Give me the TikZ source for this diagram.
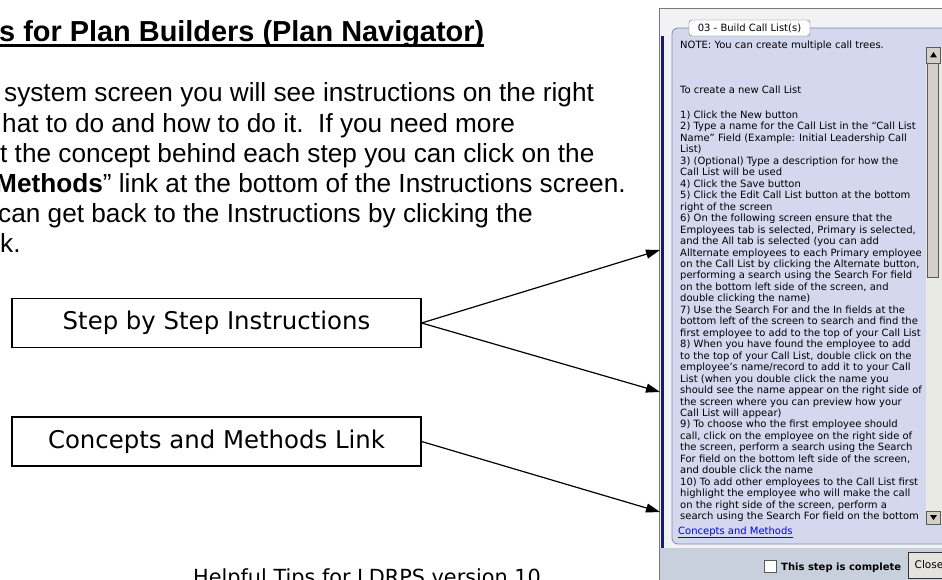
\documentclass[tikz,border=0pt]{standalone}
\usepackage{fontspec}
\setmainfont{Liberation Sans}
\newfontfamily\dvs{DejaVu Sans}
\usetikzlibrary{arrows.meta}
\definecolor{panelfill}{RGB}{212,216,238}
\definecolor{panelline}{RGB}{128,138,172}
\definecolor{framefill}{RGB}{242,242,244}
\definecolor{frameline}{RGB}{120,120,120}
\definecolor{navy}{RGB}{24,26,110}
\definecolor{barfill}{RGB}{200,208,222}
\definecolor{btnfill}{RGB}{212,208,200}
\definecolor{trackfill}{RGB}{234,234,228}
\definecolor{linkblue}{RGB}{0,0,238}
\tikzset{
  bodytext/.style={anchor=base west, inner sep=0pt, font=\fontsize{26.2}{30}\selectfont},
  calloutbox/.style={draw=black, line width=1.2pt, minimum width=409pt, minimum height=49pt, inner sep=0pt, font=\dvs\fontsize{24.4}{26}\selectfont},
  paneltext/.style={anchor=base west, inner sep=0pt, font=\dvs\fontsize{10}{11.5}\selectfont},
  pointer/.style={line width=1.2pt, -{Triangle[length=14pt,width=9pt]}},
  btn/.style={fill=btnfill, draw=gray!70!black, line width=0.6pt},
}
\begin{document}
\begin{tikzpicture}[x=1pt,y=-1pt]
\useasboundingbox (0,0) rectangle (942,580);
\begin{scope}
\clip (0,0) rectangle (942,580);
\fill[white] (0,0) rectangle (942,580);

% ---- left document text ----
\node[anchor=base west, inner sep=0pt, font=\fontsize{28.9}{30}\selectfont\bfseries] (title) at (-1,41.5) {s for Plan Builders (Plan Navigator)};
\draw[line width=3pt] ([yshift=-4pt]title.base west) -- ([yshift=-4pt]title.base east);

\node[bodytext] (l1) at (4,102) {system screen you will see instructions on the right};
\node[bodytext] (l2) at (2,132.1) {hat to do and how to do it.\ \ If you need more};
\node[bodytext] (l3) at (0,162.2) {t the concept behind each step you can click on the};
\node[bodytext] (l4) at (-5,192.3) {\textbf{Methods}” link at the bottom of the Instructions screen.};
\node[bodytext] (l5) at (-2,222.4) {can get back to the Instructions by clicking the};
\node[bodytext] (l6) at (0,252.5) {k.};

\node[calloutbox] (step) at (216.5,323) {Step by Step Instructions};
\node[calloutbox] (concept) at (216.5,441.5) {Concepts and Methods Link};

\node[anchor=base west, inner sep=0pt, font=\dvs\fontsize{20.8}{24}\selectfont] (footer) at (193,584) {Helpful Tips for LDRPS version 10};

% ---- screenshot ----
\draw[fill=framefill, draw=frameline, line width=1pt] (659.5,9) rectangle (960,600);
\fill[barfill] (660,548) rectangle (942,580);
\fill[navy] (661,36) rectangle (663.5,548);
\draw[fill=panelfill, draw=panelline, line width=0.8pt, rounded corners=6pt] (672,28) rectangle (975,544);
\node[draw=gray!80!black, fill=white, rounded corners=3pt, minimum width=121pt, minimum height=16pt, inner sep=0pt, font=\dvs\fontsize{10}{11}\selectfont] (tab) at (749.5,28) {03 - Build Call List(s)};

% scrollbar
\fill[trackfill] (926,47) rectangle (942,524);
\draw[btn] (926.5,47) rectangle (940.5,63);
\fill (933.5,52) -- (937,57.5) -- (930,57.5) -- cycle;
\draw[btn] (927,63) rectangle (938,277);
\draw[btn] (926.5,511) rectangle (940.5,524);
\fill (930,515) -- (937,515) -- (933.5,520) -- cycle;

\node[paneltext] (note) at (680,48.5) {NOTE: You can create multiple call trees.};
\node[paneltext] (create) at (680,93.5) {To create a new Call List};
\begin{scope}
\clip (672,100) rectangle (924,521);
\foreach \t [count=\i from 0] in {
 {1) Click the New button},
 {2) Type a name for the Call List in the “Call List},
 {Name” Field (Example: Initial Leadership Call},
 {List)},
 {3) (Optional) Type a description for how the},
 {Call List will be used},
 {4) Click the Save button},
 {5) Click the Edit Call List button at the bottom},
 {right of the screen},
 {6) On the following screen ensure that the},
 {Employees tab is selected, Primary is selected,},
 {and the All tab is selected (you can add},
 {Allternate employees to each Primary employee},
 {on the Call List by clicking the Alternate button,},
 {performing a search using the Search For field},
 {on the bottom left side of the screen, and},
 {double clicking the name)},
 {7) Use the Search For and the In fields at the},
 {bottom left of the screen to search and find the},
 {first employee to add to the top of your Call List},
 {8) When you have found the employee to add},
 {to the top of your Call List, double click on the},
 {employee’s name/record to add it to your Call},
 {List (when you double click the name you},
 {should see the name appear on the right side of},
 {the screen where you can preview how your},
 {Call List will appear)},
 {9) To choose who the first employee should},
 {call, click on the employee on the right side of},
 {the screen, perform a search using the Search},
 {For field on the bottom left side of the screen,},
 {and double click the name},
 {10) To add other employees to the Call List first},
 {highlight the employee who will make the call},
 {on the right side of the screen, perform a},
 {search using the Search For field on the bottom}}
 \node[paneltext, name=pl\i] at (680,{118.5+\i*11.46}) {\t};
\end{scope}
\node[paneltext, text=linkblue] (link) at (678,534) {\underline{Concepts and Methods}};

% bottom bar
\node[draw=gray!70!black, fill=white, minimum size=12pt, inner sep=0pt] (chk) at (770,566) {};
\node[anchor=base west, inner sep=0pt, font=\dvs\fontsize{10}{12}\bfseries\selectfont] (done) at (781,570) {This step is complete};
\node[draw=black!80, fill=btnfill!60!white, anchor=west, minimum height=26pt, minimum width=50pt, inner sep=0pt, text width=44pt, align=left, font=\dvs\fontsize{10.5}{12}\selectfont] (close) at (908,565) {\ Close};

% ---- callout connectors ----
\coordinate (t1) at (660,250);
\coordinate (t2) at (660,392);
\coordinate (t3) at (660,512);
\draw[pointer] (step.east) -- (t1);
\draw[pointer] (step.east) -- (t2);
\draw[pointer] (concept.east) -- (t3);
\end{scope}
\end{tikzpicture}
\end{document}
